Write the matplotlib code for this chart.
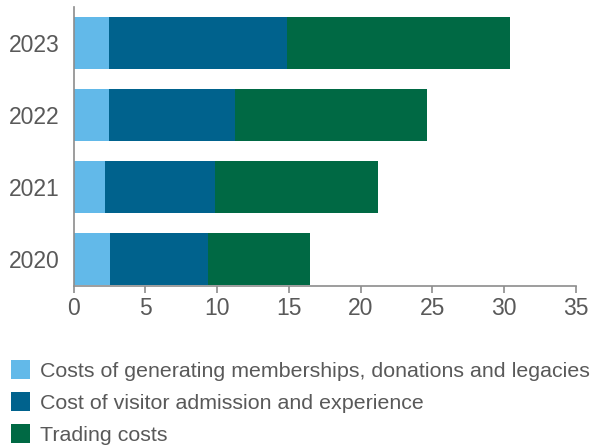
import matplotlib
matplotlib.use("Agg")
import matplotlib.pyplot as plt
from matplotlib.patches import Rectangle

years = ["2020", "2021", "2022", "2023"]
memberships = [2.53, 2.2, 2.46, 2.46]
visitor = [6.83, 7.65, 8.79, 12.4]
trading = [7.11, 11.35, 13.35, 15.52]
series_names = [
    "Costs of generating memberships, donations and legacies",
    "Cost of visitor admission and experience",
    "Trading costs",
]
colors = ["#62B9E9", "#00628D", "#006944"]
xticks = [0, 5, 10, 15, 20, 25, 30, 35]

plt.rcParams['font.family'] = ['Liberation Sans', 'DejaVu Sans']
text_color = "#595959"
spine_color = "#8c8c8c"

fig = plt.figure(figsize=(5.92, 4.48), dpi=100)
ax = fig.add_axes([73.5 / 592, 1 - 285.5 / 448, (576 - 73.5) / 592, (285.5 - 7) / 448])

pos = list(range(len(years)))
left = [0] * len(years)
for vals, c in zip([memberships, visitor, trading], colors):
    ax.barh(pos, vals, left=left, height=0.73, color=c, linewidth=0)
    left = [l + v for l, v in zip(left, vals)]

ax.set_xlim(0, 35)
ax.set_ylim(-0.37, 3.5)
ax.set_xticks(xticks)
ax.set_xticklabels([str(t) for t in xticks])
ax.set_yticks(pos)
ax.set_yticklabels(years)
for s in ["top", "right"]:
    ax.spines[s].set_visible(False)
for s in ["left", "bottom"]:
    ax.spines[s].set_color(spine_color)
    ax.spines[s].set_linewidth(1.2)
ax.tick_params(axis="x", length=5, width=1.2, color=spine_color, labelsize=16.5,
               labelcolor=text_color, pad=3)
ax.tick_params(axis="y", length=0, labelsize=16.5, labelcolor=text_color, pad=10)

# legend
rows_y = [369.5, 401.5, 433.3]
for name, c, yc in zip(series_names, colors, rows_y):
    fig.add_artist(Rectangle((11 / 592, 1 - (yc + 9.5) / 448), 19 / 592, 19 / 448,
                             transform=fig.transFigure, color=c, linewidth=0))
    fig.text(40 / 592, 1 - yc / 448, name, fontsize=15.4, color=text_color,
             va="center_baseline", ha="left")

fig.savefig("out.png", dpi=100)
